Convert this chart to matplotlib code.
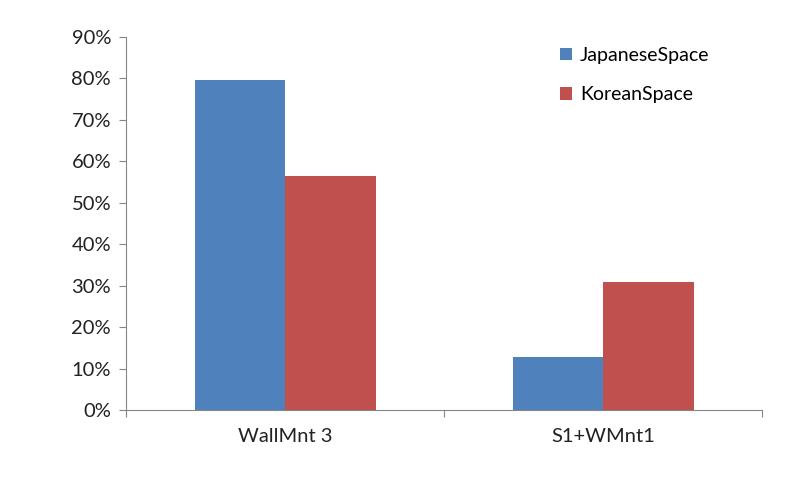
import matplotlib.pyplot as plt
import matplotlib.ticker as mticker
import numpy as np

categories = ['WallMnt 3', 'S1+WMnt1']
japanese = [0.797, 0.128]
korean = [0.565, 0.31]
series_names = ['JapaneseSpace', 'KoreanSpace']

plt.rcParams['font.family'] = ['Lato', 'DejaVu Sans']

fig = plt.figure(figsize=(8, 4.78), dpi=100)
ax = fig.add_axes([0.158, 0.142, 0.795, 0.781])

x = np.arange(len(categories))
w = 1 / 3.5
ax.bar(x - w / 2, japanese, w, color='#4F81BD', label=series_names[0])
ax.bar(x + w / 2, korean, w, color='#C0504D', label=series_names[1])

ax.set_xlim(-0.5, len(categories) - 0.5)
ax.set_ylim(0, 0.9)
ax.yaxis.set_major_locator(mticker.MultipleLocator(0.1))
ax.yaxis.set_major_formatter(mticker.FuncFormatter(lambda v, p: f'{v * 100:.0f}%'))

# category labels between the boundary ticks
ax.set_xticks(np.arange(-0.5, len(categories), 1))
ax.set_xticklabels([])
ax.set_xticks(x, minor=True)
ax.set_xticklabels(categories, minor=True, fontsize=14.5, color='#222222')
ax.tick_params(axis='x', which='minor', length=0, pad=13)
ax.tick_params(axis='x', which='major', length=5, color='#868686', direction='out')
ax.tick_params(axis='y', length=5, color='#868686', labelsize=14.5, labelcolor='#222222', pad=6)

for side in ['top', 'right']:
    ax.spines[side].set_visible(False)
for side in ['left', 'bottom']:
    ax.spines[side].set_color('#868686')

ax.legend(loc='upper left', bbox_to_anchor=(0.655, 1.02), frameon=False,
          fontsize=14, handlelength=0.6, handleheight=0.6,
          handletextpad=0.4, labelspacing=1.15)

plt.savefig('out.png', dpi=100)
